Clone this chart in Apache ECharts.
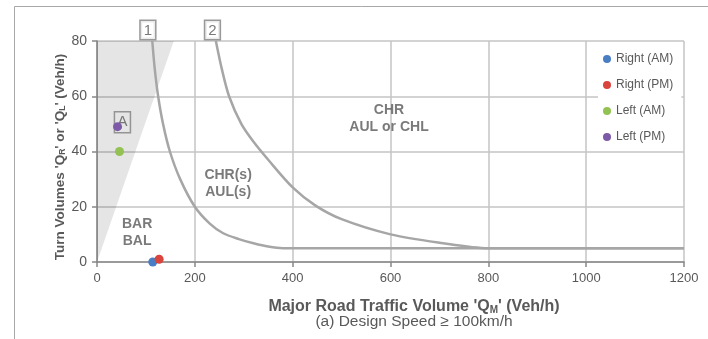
<!DOCTYPE html>
<html><head><meta charset="utf-8">
<script src="https://cdn.jsdelivr.net/npm/echarts@6/dist/echarts.min.js"></script>
<style>html,body{margin:0;padding:0;background:#fff}#c{width:708px;height:339px}</style>
</head><body><div id="c"></div>
<script>
// ---- data ----
const xTicks = [0, 200, 400, 600, 800, 1000, 1200];
const yTicks = [0, 20, 40, 60, 80];
const curve1X = [113, 118, 125, 135, 149, 170, 200, 230, 258, 290, 320, 350, 380, 420, 1200];
const curve1Y = [80, 70, 60, 50, 40, 30, 20, 14, 10.4, 8.3, 6.8, 5.6, 5, 5, 5];
const curve2X = [243, 255, 270, 295, 320, 350, 400, 446, 500, 600, 700, 800, 850, 1200];
const curve2Y = [80, 70, 60, 50, 43.5, 37, 27, 20.5, 15.5, 10, 7, 5, 5, 5];
const shadeX = [0, 0, 157];
const shadeY = [0, 80, 80];
const pointNames = ['Right (AM)', 'Right (PM)', 'Left (AM)', 'Left (PM)'];
const pointX = [114, 127, 46, 42];
const pointY = [0, 1, 40, 49];
const pointColors = ['#4a7ec4', '#d9443d', '#93c152', '#7d5aa8'];
const regionLabels = ['BAR\nBAL', 'CHR(s)\nAUL(s)', 'CHR\nAUL or CHL'];
const regionX = [82, 268, 597];
const regionY = [10.5, 28.2, 51.8];
const curveTags = ['1', '2'];
const curveTagX = [104, 236];
const curveTagY = [80, 80];
const pointTags = ['A'];
const pointTagX = [52];
const pointTagY = [50.6];

const FONT = '"Liberation Sans", Arial, sans-serif';
const TXT = '#595959';

const chart = echarts.init(document.getElementById('c'), null, {renderer: 'canvas'});

const series = [];
series.push({
  type: 'custom', name: 'shade', z: 1, silent: true,
  data: [[0, 0]],
  renderItem: function (params, api) {
    const pts = shadeX.map((x, i) => api.coord([x, shadeY[i]]));
    return {type: 'polygon', shape: {points: pts}, style: {fill: 'rgba(0,0,0,0.1)'}};
  }
});
[[curve1X, curve1Y], [curve2X, curve2Y]].forEach(([xs, ys], k) => {
  series.push({
    type: 'line', name: 'curve' + (k + 1), z: 3, silent: true,
    data: xs.map((x, i) => [x, ys[i]]),
    smooth: 0.3, showSymbol: false,
    lineStyle: {color: '#a6a6a6', width: 2.5}
  });
});
series.push({
  type: 'scatter', name: 'regions', z: 4, silent: true, symbolSize: 0,
  data: regionX.map((x, i) => ({value: [x, regionY[i]], label: {formatter: regionLabels[i]}})),
  label: {show: true, position: 'inside', fontFamily: FONT, fontSize: 14, fontWeight: 'bold',
    color: TXT, lineHeight: 17, align: 'center'}
});
series.push({
  type: 'scatter', name: 'tags', z: 4, silent: true, symbolSize: 0,
  data: curveTagX.map((x, i) => ({value: [x, curveTagY[i]], label: {formatter: curveTags[i]}})),
  label: {show: true, position: 'top', distance: 2, fontFamily: FONT, fontSize: 15, lineHeight: 15,
    color: TXT, backgroundColor: '#fff', borderColor: '#7f7f7f', borderWidth: 1.5, padding: [2, 3, 1, 3]}
});
series.push({
  type: 'scatter', name: 'ptags', z: 4, silent: true, symbolSize: 0,
  data: pointTagX.map((x, i) => ({value: [x, pointTagY[i]], label: {formatter: pointTags[i]}})),
  label: {show: true, position: 'inside', fontFamily: FONT, fontSize: 15, lineHeight: 15,
    color: TXT, borderColor: '#7f7f7f', borderWidth: 1.5, padding: [3, 3, 3, 3]}
});
pointNames.forEach((n, i) => {
  series.push({
    type: 'scatter', name: n, z: 6, symbol: 'circle', symbolSize: 9,
    itemStyle: {color: pointColors[i], opacity: 1},
    data: [[pointX[i], pointY[i]]]
  });
});

const axisCommon = {
  axisLine: {show: true, lineStyle: {color: '#888', width: 1.5}},
  axisTick: {show: true, inside: false, length: 5, lineStyle: {color: '#888', width: 1.5}},
  splitLine: {show: true, lineStyle: {color: '#c4c4c4', width: 1.5}}
};

chart.setOption({
  animation: false,
  backgroundColor: '#fff',
  grid: {left: 97, right: 24, top: 41, bottom: 77, containLabel: false},
  xAxis: Object.assign({
    type: 'value', min: xTicks[0], max: xTicks[xTicks.length - 1], interval: xTicks[1] - xTicks[0],
    axisLabel: {color: TXT, fontFamily: FONT, fontSize: 13, margin: 10, formatter: v => String(v)}
  }, axisCommon),
  yAxis: Object.assign({
    type: 'value', min: yTicks[0], max: yTicks[yTicks.length - 1], interval: yTicks[1] - yTicks[0],
    axisLabel: {color: TXT, fontFamily: FONT, fontSize: 14, margin: 10, formatter: v => String(v)}
  }, axisCommon),
  legend: {
    data: pointNames, orient: 'vertical', left: 598, top: 45,
    backgroundColor: '#fff', padding: [7, 8, 7, 5],
    itemWidth: 8, itemHeight: 8, itemGap: 12, icon: 'circle',
    textStyle: {color: TXT, fontFamily: FONT, fontSize: 12, lineHeight: 14}
  },
  graphic: [
    {type: 'line', silent: true, shape: {x1: 14.5, y1: 6.5, x2: 708, y2: 6.5}, style: {stroke: '#a8a8a8', lineWidth: 1}},
    {type: 'line', silent: true, shape: {x1: 14.5, y1: 6.5, x2: 14.5, y2: 339}, style: {stroke: '#a8a8a8', lineWidth: 1}},
    {type: 'text', silent: true, x: 414, y: 307, style: {
      text: "Major Road Traffic Volume 'Q{sub|M}' (Veh/h)", fill: TXT,
      font: 'bold 16px ' + FONT, align: 'center', verticalAlign: 'middle',
      rich: {sub: {fontSize: 10, fontWeight: 'bold', fontFamily: FONT, fill: TXT, padding: [7, 0, 0, 0], verticalAlign: 'bottom'}}
    }},
    {type: 'text', silent: true, x: 414, y: 322, style: {
      text: '(a) Design Speed \u2265 100km/h', fill: TXT,
      font: '15.5px ' + FONT, align: 'center', verticalAlign: 'middle'
    }},
    {type: 'text', silent: true, x: 60, y: 157, rotation: Math.PI / 2, style: {
      text: "Turn Volumes 'Q{sub|R}' or 'Q{sub|L}' (Veh/h)", fill: TXT,
      font: 'bold 13.5px ' + FONT, align: 'center', verticalAlign: 'middle',
      rich: {sub: {fontSize: 8.5, fontWeight: 'bold', fontFamily: FONT, fill: TXT, padding: [6, 0, 0, 0], verticalAlign: 'bottom'}}
    }}
  ],
  series: series
});
</script></body></html>
